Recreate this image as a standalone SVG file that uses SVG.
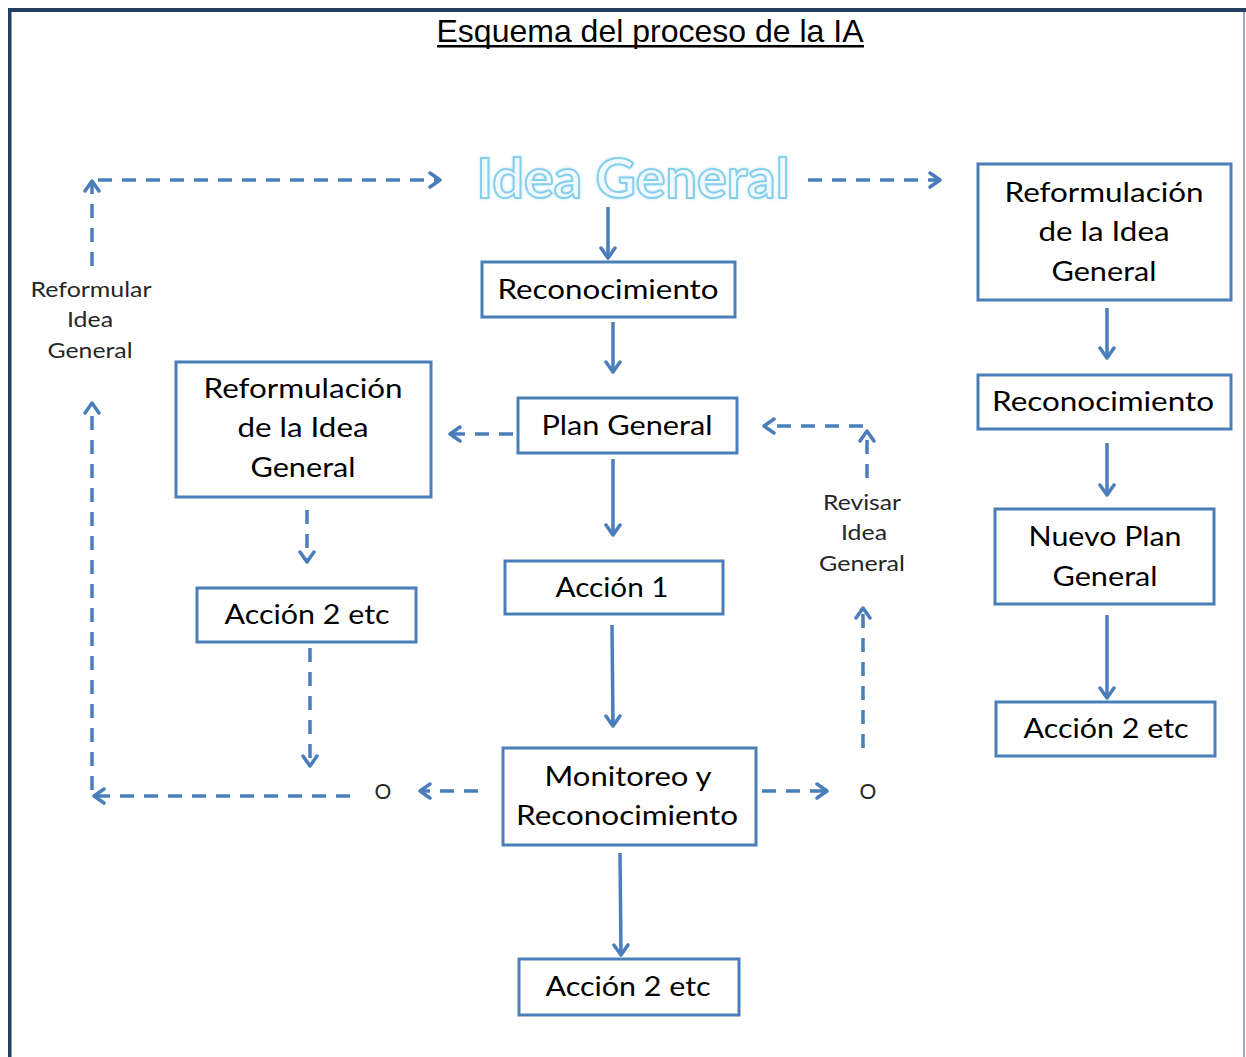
<svg xmlns="http://www.w3.org/2000/svg" width="1246" height="1057" viewBox="0 0 1246 1057">
<style>
  .box { fill: #ffffff; stroke: #4a7ebb; stroke-width: 3; }
  .bt { font-family: Lato, "Open Sans", sans-serif; font-size: 27px; fill: #000000; text-anchor: middle; }
  .lb { font-family: Lato, "Open Sans", sans-serif; font-size: 21px; fill: #262626; text-anchor: middle; }
  .s { fill: none; stroke: #4a7ebb; stroke-width: 3.5; marker-end: url(#ah); }
  .d { fill: none; stroke: #4a7ebb; stroke-width: 3.5; stroke-dasharray: 14 10; marker-end: url(#ah); }
</style>
<defs>
  <marker id="ah" viewBox="0 0 14 18" refX="12" refY="9" markerWidth="14" markerHeight="18" markerUnits="userSpaceOnUse" orient="auto">
    <path d="M2,2 L12,9 L2,16" fill="none" stroke="#4a7ebb" stroke-width="3.5" stroke-dasharray="none" stroke-linecap="round" stroke-linejoin="round"/>
  </marker>
  <filter id="glow" x="-10%" y="-30%" width="120%" height="160%">
    <feGaussianBlur in="SourceAlpha" stdDeviation="1.5" result="b"/>
    <feFlood flood-color="#bfe6f6"/>
    <feComposite in2="b" operator="in" result="g"/>
    <feMerge><feMergeNode in="g"/><feMergeNode in="SourceGraphic"/></feMerge>
  </filter>
</defs>
<rect width="1246" height="1057" fill="#ffffff"/>
<g id="frame">
  <rect x="8" y="8" width="1238" height="4" fill="#243f60"/>
  <rect x="8" y="8" width="3.5" height="1049" fill="#243f60"/>
  <line x1="1244" y1="12" x2="1244" y2="1057" stroke="#7f8fa6" stroke-width="1.5"/>
</g>
<g id="title">
  <text x="650" y="42" font-family="Liberation Sans, Arial, sans-serif" font-size="32" text-anchor="middle" textLength="427" lengthAdjust="spacingAndGlyphs">Esquema del proceso de la IA</text>
  <rect x="437" y="45" width="427" height="2.5" fill="#000000"/>
</g>
<g id="idea-general">
  <text x="633" y="198" font-family="Lato, Open Sans, sans-serif" font-weight="700" font-size="56" text-anchor="middle" textLength="313" lengthAdjust="spacingAndGlyphs" fill="#f1f9fd" stroke="#86cfec" stroke-width="2" filter="url(#glow)">Idea General</text>
</g>
<g id="reconocimiento">
  <rect class="box" x="482" y="262" width="253" height="55"/>
  <text class="bt" x="608" y="299" textLength="221" lengthAdjust="spacingAndGlyphs">Reconocimiento</text>
</g>
<g id="plan-general">
  <rect class="box" x="518" y="398" width="219" height="55"/>
  <text class="bt" x="627" y="435" textLength="171" lengthAdjust="spacingAndGlyphs">Plan General</text>
</g>
<g id="accion-1">
  <rect class="box" x="505" y="561" width="218" height="53"/>
  <text class="bt" x="612" y="597" textLength="113" lengthAdjust="spacingAndGlyphs">Acción 1</text>
</g>
<g id="monitoreo">
  <rect class="box" x="503" y="748" width="253" height="97"/>
  <text class="bt" x="628" y="786" textLength="167" lengthAdjust="spacingAndGlyphs">Monitoreo y</text>
  <text class="bt" x="627" y="825" textLength="222" lengthAdjust="spacingAndGlyphs">Reconocimiento</text>
</g>
<g id="accion-2-centro">
  <rect class="box" x="519" y="959" width="220" height="56"/>
  <text class="bt" x="628" y="996" textLength="165" lengthAdjust="spacingAndGlyphs">Acción 2 etc</text>
</g>
<g id="reformulacion-izq">
  <rect class="box" x="176" y="362" width="255" height="135"/>
  <text class="bt" x="303" y="398" textLength="199" lengthAdjust="spacingAndGlyphs">Reformulación</text>
  <text class="bt" x="303" y="437" textLength="131" lengthAdjust="spacingAndGlyphs">de la Idea</text>
  <text class="bt" x="303" y="477" textLength="105" lengthAdjust="spacingAndGlyphs">General</text>
</g>
<g id="accion-2-izq">
  <rect class="box" x="197" y="588" width="219" height="54"/>
  <text class="bt" x="307" y="624" textLength="165" lengthAdjust="spacingAndGlyphs">Acción 2 etc</text>
</g>
<g id="reformulacion-der">
  <rect class="box" x="978" y="164" width="253" height="136"/>
  <text class="bt" x="1104" y="202" textLength="199" lengthAdjust="spacingAndGlyphs">Reformulación</text>
  <text class="bt" x="1104" y="241" textLength="131" lengthAdjust="spacingAndGlyphs">de la Idea</text>
  <text class="bt" x="1104" y="281" textLength="105" lengthAdjust="spacingAndGlyphs">General</text>
</g>
<g id="reconocimiento-der">
  <rect class="box" x="978" y="375" width="253" height="54"/>
  <text class="bt" x="1103" y="411" textLength="222" lengthAdjust="spacingAndGlyphs">Reconocimiento</text>
</g>
<g id="nuevo-plan">
  <rect class="box" x="995" y="509" width="219" height="95"/>
  <text class="bt" x="1105" y="546" textLength="153" lengthAdjust="spacingAndGlyphs">Nuevo Plan</text>
  <text class="bt" x="1105" y="586" textLength="105" lengthAdjust="spacingAndGlyphs">General</text>
</g>
<g id="accion-2-der">
  <rect class="box" x="996" y="702" width="219" height="54"/>
  <text class="bt" x="1106" y="738" textLength="165" lengthAdjust="spacingAndGlyphs">Acción 2 etc</text>
</g>
<g id="labels">
  <text class="lb" x="91" y="297" textLength="121" lengthAdjust="spacingAndGlyphs">Reformular</text>
  <text class="lb" x="90" y="327" textLength="46" lengthAdjust="spacingAndGlyphs">Idea</text>
  <text class="lb" x="90" y="358" textLength="85" lengthAdjust="spacingAndGlyphs">General</text>
  <text class="lb" x="862" y="510" textLength="78" lengthAdjust="spacingAndGlyphs">Revisar</text>
  <text class="lb" x="864" y="540" textLength="46" lengthAdjust="spacingAndGlyphs">Idea</text>
  <text class="lb" x="862" y="571" textLength="86" lengthAdjust="spacingAndGlyphs">General</text>
  <text class="lb" x="383" y="799">O</text>
  <text class="lb" x="868" y="799">O</text>
</g>
<g id="connectors">
  <path class="s" d="M608,207 V258"/>
  <path class="s" d="M613,322 V372"/>
  <path class="s" d="M613,459 V535"/>
  <path class="s" d="M612,625 L613,726"/>
  <path class="s" d="M620,853 L621,955"/>
  <path class="s" d="M1107,308 V358"/>
  <path class="s" d="M1107,443 V495"/>
  <path class="s" d="M1107,615 V698"/>
  <path class="d" d="M92,266 V181"/>
  <path class="d" d="M98,180 H440"/>
  <path class="d" d="M808,180 H940"/>
  <path class="d" d="M513,434 H450"/>
  <path class="d" d="M307,510 V562"/>
  <path class="d" d="M310,648 V766"/>
  <path class="d" d="M350,796 H94"/>
  <path class="d" d="M92,790 V403"/>
  <path class="d" d="M478,791 H420"/>
  <path class="d" d="M762,791 H827"/>
  <path class="d" d="M863,748 V608"/>
  <path class="d" d="M867,478 V431"/>
  <path class="d" d="M863,426 H764"/>
</g>
</svg>
